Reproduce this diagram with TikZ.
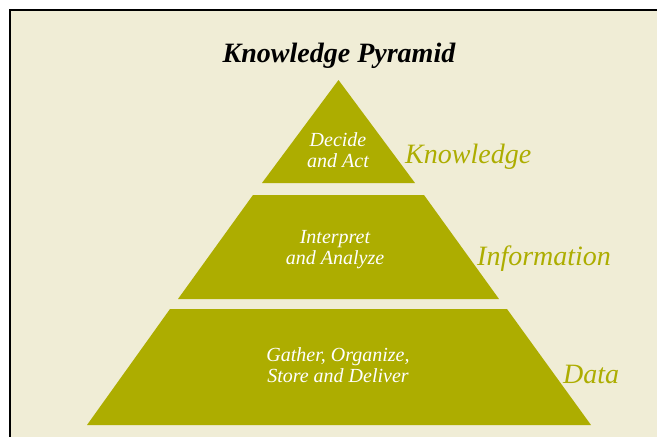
\documentclass[tikz,border=0pt]{standalone}
\usepackage{fontspec}
\setmainfont{Liberation Serif}
\usetikzlibrary{positioning}
\definecolor{pyrolive}{HTML}{ADAD00}
\definecolor{paper}{HTML}{F0EDD6}

\begin{document}
\begin{tikzpicture}[x=1pt, y=-1pt,
	layer/.style={fill=pyrolive, draw=none},
	inner/.style={text=white, font=\fontsize{20}{21}\selectfont\itshape, align=center, inner sep=0pt, anchor=base},
	tag/.style={text=pyrolive, font=\fontsize{28}{30}\selectfont\itshape, inner sep=0pt, anchor=base west},
	heading/.style={font=\fontsize{28}{30}\selectfont\bfseries\itshape, inner sep=0pt, anchor=base}
]

\useasboundingbox (0,0) rectangle (657,437);
\fill[white] (0,0) rectangle (657,437);
\fill[paper] (10,10) rectangle (657,437);
\draw[line width=2pt] (10,437) -- (10,10) -- (657,10);

\node[heading] (title) at (339,62) {Knowledge Pyramid};

% pyramid layers
\fill[layer] (338.5,80) -- (415,183) -- (262,183) -- cycle;
\fill[layer] (253,195) -- (424,195) -- (499,299) -- (178,299) -- cycle;
\fill[layer] (170,309) -- (507,309) -- (591,425) -- (87,425) -- cycle;

\node[inner] (act) at (338,167) {Decide\\and Act};
\node[inner] (analyze) at (335,264) {Interpret\\and Analyze};
\node[inner] (gather) at (338,382) {Gather, Organize,\\Store and Deliver};

\node[tag] (knowledge) at (405,163) {Knowledge};
\node[tag] (information) at (477,265) {Information};
\node[tag] (data) at (563,383) {Data};

\end{tikzpicture}
\end{document}
